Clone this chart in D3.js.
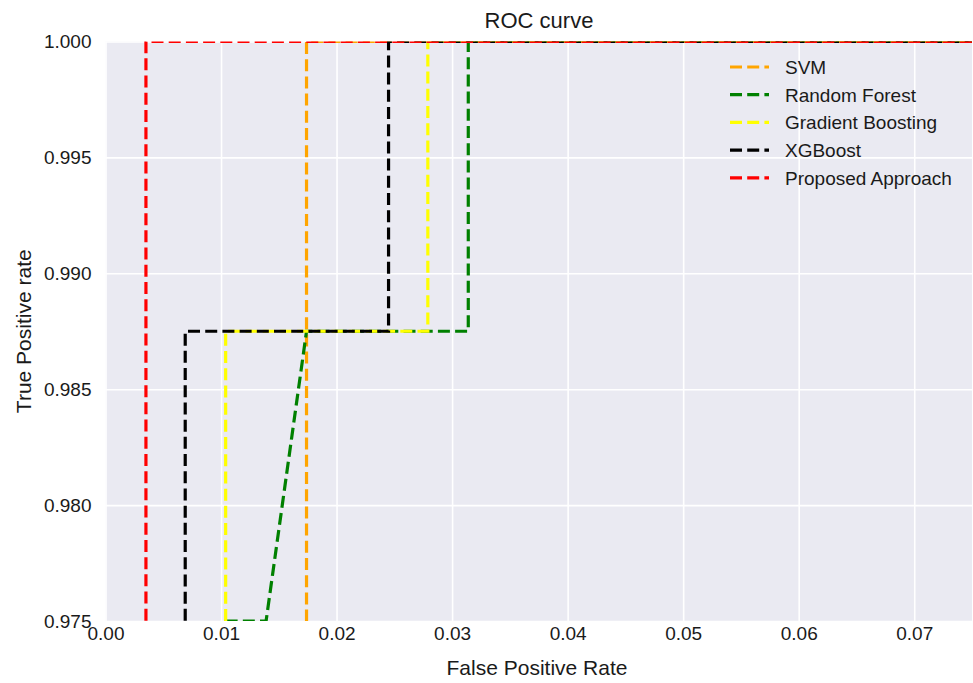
<html>
<head>
<title>ROC curve</title>
<script src="https://cdn.jsdelivr.net/npm/d3@7"></script>
<style>
  body { margin: 0; background: #fff; }
  text { font-family: "Liberation Sans", Arial, sans-serif; fill: #1a1a1a; }
</style>
</head>
<body>
<svg id="chart"></svg>
<script>
const WIDTH = 973
const HEIGHT = 683

// tick values
const xTicks = [0, 0.01, 0.02, 0.03, 0.04, 0.05, 0.06, 0.07]
const yTicks = [0.975, 0.98, 0.985, 0.99, 0.995, 1.0]

// series, drawn in this order
const seriesNames = ["SVM", "Random Forest", "Gradient Boosting", "XGBoost", "Proposed Approach"]
const seriesColors = ["orange", "green", "yellow", "black", "red"]

const svmFpr = [0, 0.0174, 0.0174, 1]
const svmTpr = [0, 0.95, 1.0, 1.0]

const rfFpr = [0, 0.0104, 0.0104, 0.0139, 0.0174, 0.0314, 0.0314, 1]
const rfTpr = [0, 0.95, 0.975, 0.975, 0.9875, 0.9875, 1.0, 1.0]

const gbFpr = [0, 0.0104, 0.0104, 0.0279, 0.0279, 1]
const gbTpr = [0, 0.95, 0.9875, 0.9875, 1.0, 1.0]

const xgbFpr = [0, 0.0069, 0.0069, 0.0245, 0.0245, 1]
const xgbTpr = [0, 0.95, 0.9875, 0.9875, 1.0, 1.0]

const propFpr = [0, 0.0035, 0.0035, 1]
const propTpr = [0, 0.95, 1.0, 1.0]

const seriesFpr = [svmFpr, rfFpr, gbFpr, xgbFpr, propFpr]
const seriesTpr = [svmTpr, rfTpr, gbTpr, xgbTpr, propTpr]

function main() {
    const margin = {left: 105.5, right: 1, top: 41.5, bottom: 62}
    const pw = WIDTH - margin.left - margin.right
    const ph = HEIGHT - margin.top - margin.bottom
    const dash = "12,5.2"
    const lw = 3.2

    let svg = d3.select("#chart")
        .attr("width", WIDTH)
        .attr("height", HEIGHT)

    let x = d3.scaleLinear().domain([0, 0.075]).range([margin.left, margin.left + pw])
    let y = d3.scaleLinear().domain([0.975, 1.0]).range([margin.top + ph, margin.top])

    svg.append("defs").append("clipPath").attr("id", "clip")
        .append("rect")
        .attr("x", margin.left).attr("y", margin.top)
        .attr("width", pw).attr("height", ph)

    svg.append("rect")
        .attr("x", margin.left).attr("y", margin.top)
        .attr("width", pw).attr("height", ph)
        .attr("fill", "#eaeaf2")

    // grid
    let xAxis = d3.axisBottom(x).tickValues(xTicks).tickFormat(d3.format(".2f"))
        .tickSize(-ph).tickPadding(6)
    let gx = svg.append("g")
        .attr("transform", `translate(0,${margin.top + ph})`)
        .call(xAxis)
    gx.select(".domain").remove()
    gx.selectAll("line").attr("stroke", "#fff").attr("stroke-width", 1.6)
    gx.selectAll("text").attr("font-size", 19).attr("fill", "#1a1a1a")
        .attr("font-family", "Liberation Sans, Arial, sans-serif")

    let yAxis = d3.axisLeft(y).tickValues(yTicks).tickFormat(d3.format(".3f"))
        .tickSize(-pw).tickPadding(14)
    let gy = svg.append("g")
        .attr("transform", `translate(${margin.left},0)`)
        .call(yAxis)
    gy.select(".domain").remove()
    gy.selectAll("line").attr("stroke", "#fff").attr("stroke-width", 1.6)
    gy.selectAll("text").attr("font-size", 19).attr("fill", "#1a1a1a")
        .attr("font-family", "Liberation Sans, Arial, sans-serif")

    // curves
    let line = d3.line().x(d => x(d[0])).y(d => y(d[1]))
    let lines = svg.append("g").attr("clip-path", "url(#clip)")
    seriesNames.forEach((name, i) => {
        let pts = seriesFpr[i].map((f, j) => [f, seriesTpr[i][j]])
        lines.append("path")
            .datum(pts)
            .attr("d", line)
            .attr("fill", "none")
            .attr("stroke", seriesColors[i])
            .attr("stroke-width", lw)
            .attr("stroke-dasharray", dash)
    })

    // legend
    let legend = svg.append("g")
    seriesNames.forEach((name, i) => {
        let ly = 67 + i * 27.7
        legend.append("line")
            .attr("x1", 730).attr("x2", 769)
            .attr("y1", ly).attr("y2", ly)
            .attr("stroke", seriesColors[i])
            .attr("stroke-width", lw)
            .attr("stroke-dasharray", dash)
        legend.append("text")
            .attr("x", 785).attr("y", ly + 7)
            .attr("font-size", 19)
            .text(name)
    })

    // labels
    svg.append("text")
        .attr("x", 539).attr("y", 28)
        .attr("text-anchor", "middle")
        .attr("font-size", 22)
        .text("ROC curve")

    svg.append("text")
        .attr("x", 537).attr("y", 675)
        .attr("text-anchor", "middle")
        .attr("font-size", 21)
        .text("False Positive Rate")

    svg.append("text")
        .attr("transform", `translate(31,${margin.top + ph / 2}) rotate(-90)`)
        .attr("text-anchor", "middle")
        .attr("font-size", 21)
        .text("True Positive rate")
}
main()
</script>
</body>
</html>
